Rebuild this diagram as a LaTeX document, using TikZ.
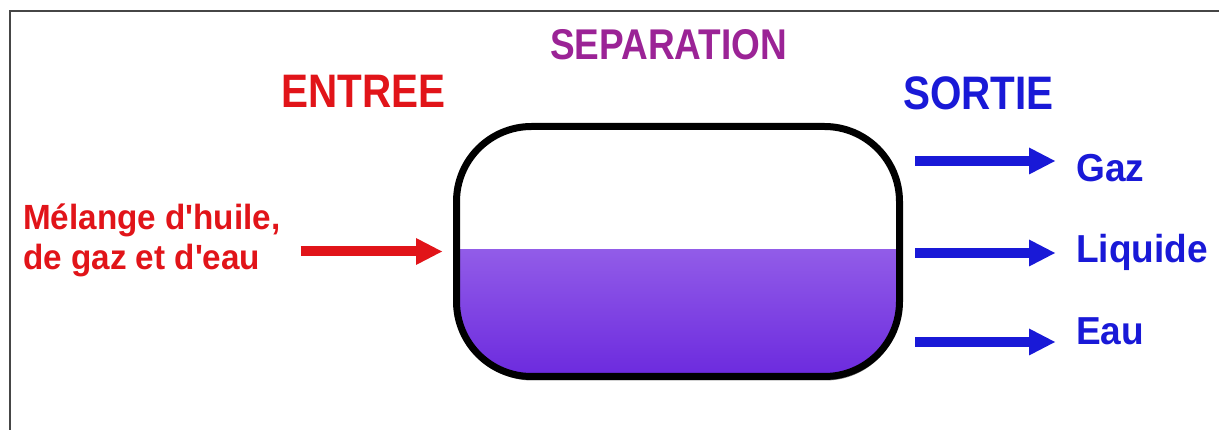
\documentclass[tikz,border=0pt]{standalone}
\usepackage{fontspec}
\setmainfont{Liberation Sans}
\newfontfamily\headfont[FakeStretch=0.86]{Liberation Sans}
\newfontfamily\labelfont[FakeStretch=0.95]{Liberation Sans}
\usetikzlibrary{arrows.meta,shadows}

\definecolor{inred}{RGB}{225,20,25}
\definecolor{outblue}{RGB}{25,25,215}
\definecolor{seppurple}{RGB}{155,35,150}
\definecolor{liqtop}{RGB}{182,140,242}
\definecolor{liqbot}{RGB}{108,42,222}
\definecolor{framegray}{RGB}{70,70,70}

\begin{document}
\begin{tikzpicture}[x=1pt,y=-1pt,
  title/.style={anchor=base west, inner sep=0pt,
    font=\headfont\bfseries\fontsize{47}{47}\selectfont},
  outlabel/.style={anchor=base west, inner sep=0pt, text=outblue,
    font=\labelfont\bfseries\fontsize{39}{39}\selectfont},
  mixlabel/.style={anchor=north west, inner sep=0pt, align=left, text=inred,
    font=\labelfont\bfseries\fontsize{35}{40}\selectfont},
  tank/.style={draw=black, line width=7pt, fill=white,
    rounded corners=75pt, minimum width=443pt, minimum height=250pt,
    inner sep=0pt,
    drop shadow={shadow xshift=1pt, shadow yshift=-4pt, opacity=0.5, fill=black},
    path picture={
      \shade[sharp corners, top color=liqtop, bottom color=liqbot]
        (path picture bounding box.south west) rectangle
        (path picture bounding box.east |- level);
    }},
  flow/.style={line width=10pt,
    -{Triangle[length=26pt, width=27pt, line width=0pt]}},
  inarrow/.style={flow, draw=inred},
  outarrow/.style={flow, draw=outblue},
  frameline/.style={draw=framegray, line width=2.5pt}
]
\useasboundingbox (0,0) rectangle (1219,430);

% frame on the left and top edges
\coordinate (fbl) at (10,430);
\coordinate (ftl) at (10,11);
\coordinate (ftr) at (1219,11);
\draw[frameline] (fbl) -- (ftl) -- (ftr);

% liquid level inside the separator
\coordinate (level) at (0,250);

% the separator vessel
\node[tank] (tank) at (678,251.5) {};

% headings
\node[title, text=seppurple, font=\headfont\bfseries\fontsize{43}{43}\selectfont]
  (septitle) at (550,60) {SEPARATION};
\node[title, text=inred] (entree) at (281,108) {ENTREE};
\node[title, text=outblue] (sortie) at (903,110) {SORTIE};

% feed
\node[mixlabel] (mix) at (23,204) {Mélange d'huile,\\de gaz et d'eau};
\draw[inarrow, shorten <=20pt, shorten >=11pt] (mix.east |- tank.west) -- (tank.west);

% outputs
\node[outlabel] (gaz) at (1076,182) {Gaz};
\node[outlabel] (liq) at (1076,263) {Liquide};
\node[outlabel] (eau) at (1076,345) {Eau};

\coordinate (rowG) at (0,161);
\coordinate (rowL) at (0,253);
\coordinate (rowE) at (0,342);
\draw[outarrow, shorten <=12pt, shorten >=21pt] (tank.east |- rowG) -- (gaz.west |- rowG);
\draw[outarrow, shorten <=12pt, shorten >=21pt] (tank.east |- rowL) -- (liq.west |- rowL);
\draw[outarrow, shorten <=12pt, shorten >=21pt] (tank.east |- rowE) -- (eau.west |- rowE);
\end{tikzpicture}
\end{document}
